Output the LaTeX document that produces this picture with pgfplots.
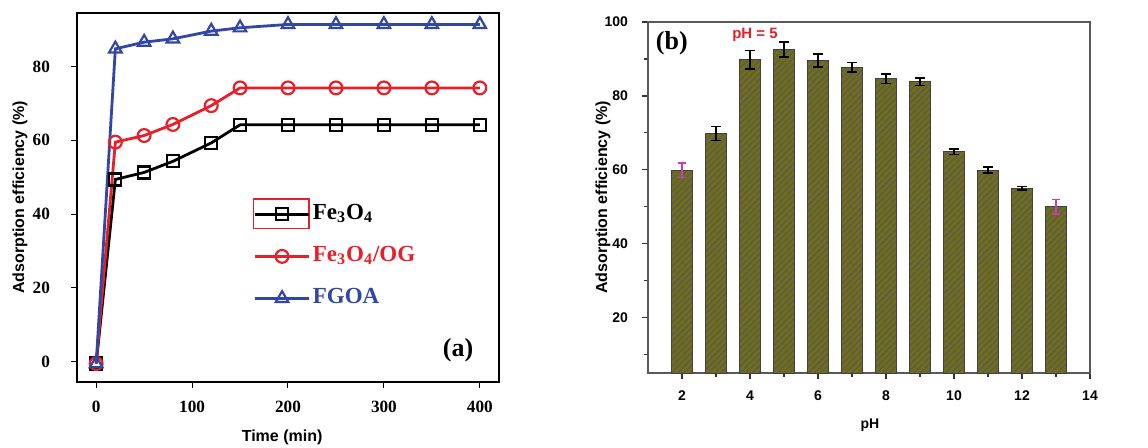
\documentclass[border=0pt]{standalone}
\usepackage{fontspec}
\setmainfont{Liberation Serif}
\setsansfont{Liberation Sans}
\usepackage{pgfplots}
\pgfplotsset{compat=1.18}
\usetikzlibrary{patterns.meta}
\definecolor{cblue}{RGB}{50,70,165}
\definecolor{cred}{RGB}{232,30,40}
\definecolor{olivebar}{RGB}{112,110,24}
\definecolor{magen}{RGB}{200,60,180}

\begin{document}
\begin{tikzpicture}
\path[use as bounding box] (0,0) rectangle (574pt,223.5pt);
% ---------------- (a) ----------------
\begin{axis}[
 at={(38.5pt,32.5pt)}, anchor=south west, scale only axis,
 width=211pt, height=184.5pt,
 xmin=-20, xmax=420, ymin=-5.5, ymax=94.5,
 xtick={0,100,...,400}, ytick={0,20,...,80},
 tick align=outside, xtick pos=bottom, ytick pos=left,
 major tick length=3pt,
 axis line style={line width=1pt},
 tick style={black, line width=0.5pt},
 ticklabel style={font=\fontsize{8.6}{10}\selectfont\bfseries},
 /pgf/number format/assume math mode=true,
 xticklabel style={yshift=-3pt}, yticklabel style={xshift=-7pt},
 xlabel={Time (min)}, ylabel={Adsorption efficiency (\%)},
 label style={font=\fontsize{8}{10}\selectfont\sffamily\bfseries},
 xlabel style={at={(axis description cs:0.486,-0.149)}, anchor=center},
 ylabel style={at={(axis description cs:-0.135,0.5)}, anchor=center},
 legend style={draw=none, fill=none, at={(rel axis cs:0.417,0.496)}, anchor=north west,
   inner sep=0pt, row sep=6pt, font=\fontsize{11.5}{13}\selectfont\bfseries,
   nodes={inner sep=1pt, text height=9pt, text depth=4pt, anchor=west}},
 legend cell align=left,
 legend image code/.code={\draw[mark repeat=2,mark phase=2,#1] plot coordinates {(0cm,0cm) (0.48cm,0cm) (0.96cm,0cm)};},
]
\addplot[black, line width=1.4pt, mark=square, mark size=3pt, mark options={fill=white, line width=1.1pt, solid}]
 coordinates {(0,-0.5) (20,49.4) (50,51.3) (80,54.3) (120,59.3) (150,64.2) (200,64.2) (250,64.2) (300,64.2) (350,64.2) (400,64.2)};
\addlegendentry{Fe\textsubscript{3}O\textsubscript{4}}
\addplot[cred, line width=1.4pt, mark=o, mark size=3.2pt, mark options={fill=white, line width=1.1pt, solid}]
 coordinates {(0,-0.5) (20,59.5) (50,61.3) (80,64.3) (120,69.4) (150,74.2) (200,74.2) (250,74.2) (300,74.2) (350,74.2) (400,74.2)};
\addlegendentry{\textcolor{cred}{Fe\textsubscript{3}O\textsubscript{4}/OG}}
\addplot[cblue, line width=1.4pt, mark=triangle, mark size=3.6pt, mark options={fill=white, line width=1.1pt, solid}]
 coordinates {(0,-0.5) (20,84.8) (50,86.6) (80,87.5) (120,89.6) (150,90.5) (200,91.4) (250,91.4) (300,91.4) (350,91.4) (400,91.4)};
\addlegendentry{\textcolor{cblue}{FGOA}}
\draw[cred, line width=0.6pt] (rel axis cs:0.419,0.417) rectangle (rel axis cs:0.550,0.496);
\node[font=\fontsize{13}{15}\selectfont\bfseries] at (rel axis cs:0.903,0.087) {(a)};
\end{axis}
% ---------------- (b) ----------------
\begin{axis}[
 at={(324pt,37pt)}, anchor=south west, scale only axis,
 width=221pt, height=175.5pt,
 xmin=1, xmax=14, ymin=5, ymax=100,
 xtick={2,4,...,14}, ytick={20,40,...,100},
 minor xtick={3,5,...,13}, minor ytick={10,30,...,90},
 tick align=outside, xtick pos=bottom, ytick pos=left,
 major tick length=3pt, minor tick length=2pt,
 axis line style={gray!70!black, line width=0.9pt},
 tick style={black!80, line width=0.6pt},
 ticklabel style={font=\fontsize{7}{8}\selectfont\sffamily\bfseries},
 /pgf/number format/assume math mode=true,
 xticklabel style={yshift=-2.5pt}, yticklabel style={xshift=-3.5pt},
 xlabel={pH}, ylabel={Adsorption efficiency (\%)},
 xlabel style={font=\fontsize{7}{8}\selectfont\sffamily\bfseries, at={(axis description cs:0.502,-0.148)}, anchor=center},
 ylabel style={font=\fontsize{8}{10}\selectfont\sffamily\bfseries, at={(axis description cs:-0.102,0.5)}, anchor=center},
 ybar, bar width=0.64, bar shift=0pt,
]
\addplot[fill=olivebar, draw=black!75, line width=0.5pt,
  postaction={pattern={Lines[angle=45,distance=2.2pt,line width=0.55pt]}, pattern color=black!65}]
 coordinates {(2,59.9) (3,69.8) (4,89.8) (5,92.6) (6,89.6) (7,87.8) (8,84.7) (9,83.8) (10,64.9) (11,59.9) (12,55.0) (13,50.0)};
\addplot[draw=none, fill=none, error bars/.cd, y dir=both, y explicit,
  error bar style={black, line width=0.8pt}, error mark options={rotate=90, mark size=2.5pt, line width=0.8pt, black}]
 table[x=x, y=y, y error=e] {
x y e
3 69.8 1.9
4 89.8 2.5
5 92.6 2.0
6 89.6 1.7
7 87.8 1.3
8 84.7 1.3
9 83.8 1.0
10 64.9 0.8
11 59.9 0.8
12 55.0 0.5
};
\addplot[draw=none, fill=none, error bars/.cd, y dir=both, y explicit,
  error bar style={magen, line width=0.8pt}, error mark options={rotate=90, mark size=2pt, line width=0.8pt, magen}]
 table[x=x, y=y, y error=e] {
x y e
2 59.9 2.0
13 50.0 2.0
};
\node[font=\fontsize{13}{15}\selectfont\bfseries] at (rel axis cs:0.054,0.94) {(b)};
\node[font=\fontsize{7.5}{9}\selectfont\sffamily\bfseries, text=cred] at (rel axis cs:0.242,0.963) {pH = 5};
\end{axis}
\end{tikzpicture}
\end{document}
